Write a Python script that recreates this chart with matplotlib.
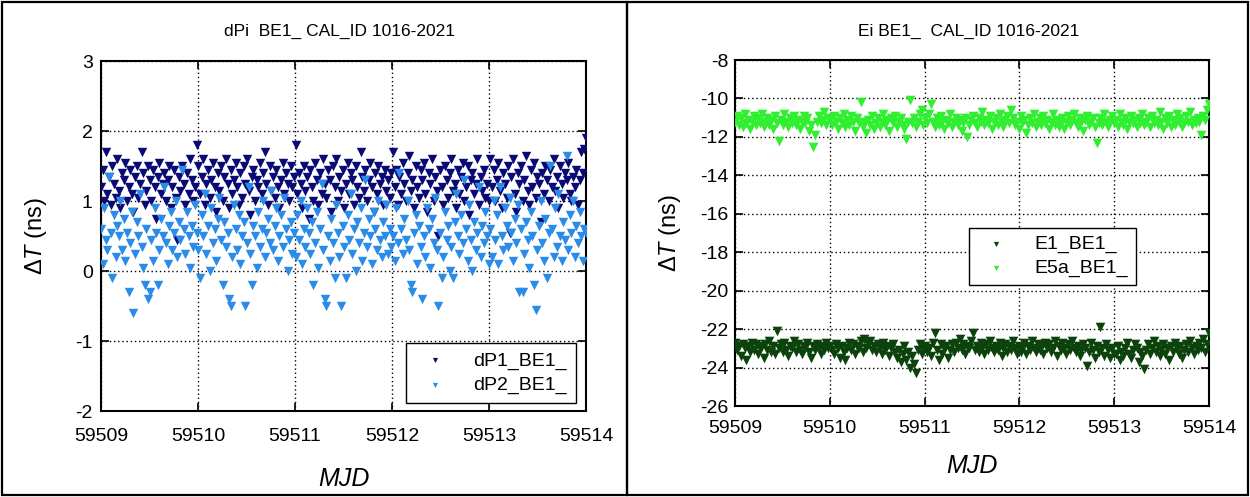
import numpy as np
import matplotlib
matplotlib.use("Agg")
import matplotlib.pyplot as plt
from matplotlib.patches import Rectangle

plt.rcParams['font.family'] = ['Liberation Sans', 'DejaVu Sans']
plt.rcParams['mathtext.fontset'] = 'custom'
plt.rcParams['mathtext.rm'] = 'Liberation Sans'
plt.rcParams['mathtext.it'] = 'Liberation Sans:italic'
plt.rcParams['axes.unicode_minus'] = False

# --- data: calibration offsets vs MJD ---
mjd_start, mjd_end = 59509, 59514
mjd_ticks = [59509, 59510, 59511, 59512, 59513, 59514]

dp1 = [
    1.2, 1.45, 1.0, 1.7, 1.1, 1.35, 0.95, 1.5, 1.25, 1.05, 1.6, 1.15, 0.9, 1.4, 1.3, 1.55, 1.0, 1.2, 1.45, 1.1,
    0.85, 1.35, 1.5, 1.05, 1.25, 1.7, 1.4, 0.95, 1.15, 1.5, 1.3, 1.0, 1.45, 1.2, 0.75, 1.35, 1.55, 1.1, 1.25, 1.4,
    1.0, 1.3, 1.5, 0.9, 1.2, 1.45, 1.05, 0.45, 1.35, 1.15, 1.5, 1.25, 0.95, 1.4, 1.1, 1.6, 1.3, 1.0, 1.2, 1.8,
    1.5, 1.1, 1.35, 1.6, 0.95, 1.25, 1.45, 1.05, 1.3, 1.55, 1.2, 0.85, 1.4, 1.15, 1.5, 1.0, 1.35, 1.6, 1.25, 0.9,
    1.45, 1.1, 1.3, 1.55, 1.2, 0.95, 1.4, 1.05, 1.5, 1.25, 1.6, 1.15, 0.8, 1.35, 1.45, 1.0, 1.3, 1.2, 1.55, 1.1,
    1.4, 1.7, 1.25, 0.95, 1.5, 1.15, 1.35, 1.05, 1.45, 1.2, 0.9, 1.3, 1.55, 1.1, 1.4, 1.25, 1.0, 1.5, 1.2, 1.35,
    1.8, 1.1, 1.4, 1.25, 0.9, 1.5, 1.15, 1.35, 0.75, 1.45, 1.2, 1.0, 1.55, 1.3, 0.95, 1.4, 1.1, 1.6, 1.25, 1.05,
    1.45, 1.3, 0.85, 1.5, 1.2, 1.6, 1.0, 1.35, 1.15, 1.45, 0.9, 1.25, 1.55, 1.1, 1.4, 1.3, 0.95, 1.5, 1.2, 1.05,
    1.7, 1.35, 1.15, 1.45, 1.0, 1.3, 1.55, 1.2, 0.85, 1.4, 1.1, 1.5, 1.25, 1.35, 0.95, 1.45, 1.15, 1.3, 1.05, 1.4,
    1.7, 1.2, 1.45, 0.95, 1.35, 1.1, 1.55, 1.25, 1.0, 1.4, 1.65, 1.15, 1.3, 0.9, 1.5, 1.2, 1.05, 1.45, 1.3, 1.55,
    1.1, 0.85, 1.4, 1.25, 1.6, 1.0, 1.35, 1.15, 0.5, 1.45, 1.2, 0.95, 1.5, 1.3, 1.05, 1.4, 1.6, 1.15, 1.25, 0.9,
    1.45, 1.1, 1.35, 1.55, 1.0, 1.2, 1.5, 0.8, 1.3, 1.4, 1.1, 1.25, 1.6, 0.95, 1.35, 1.15, 1.45, 1.05, 1.25, 1.0,
    1.6, 1.2, 1.45, 1.0, 1.3, 1.55, 1.15, 0.9, 1.4, 1.25, 1.05, 1.5, 0.55, 1.35, 1.6, 1.1, 0.85, 1.4, 1.25, 1.5,
    1.0, 1.3, 1.65, 1.15, 0.95, 1.45, 1.2, 1.55, 1.05, 1.35, 1.25, 0.7, 1.4, 1.1, 1.5, 1.3, 1.0, 1.45, 1.2, 1.6,
    1.15, 1.35, 0.9, 1.5, 1.25, 1.05, 1.4, 1.3, 1.55, 1.1, 1.0, 1.35, 1.2, 1.45, 0.95, 1.3, 1.7, 1.4, 1.75, 1.9,
]
dp2 = [
    0.6, 0.1, 0.9, 0.45, 0.3, 1.35, 0.55, -0.1, 0.8, 0.2, 0.65, 0.5, 1.0, 0.3, 0.75, 0.15, 0.55, -0.3, 0.4, 0.85,
    -0.6, 0.25, 0.7, 0.5, 1.1, 0.35, 0.05, -0.2, 0.6, -0.4, -0.3, 0.45, 0.15, 0.9, 0.55, -0.2, 0.3, 0.75, 0.5, 1.2,
    0.4, 0.1, 0.65, 0.85, 0.3, 0.55, 1.0, 0.2, 0.7, 0.45, 1.45, 0.6, 0.25, 0.85, 0.5, 0.05, 0.65, 0.35, 0.95, 0.55,
    0.3, -0.1, 0.8, 0.5, 1.1, 0.25, 0.65, 0.0, 0.9, 0.4, 0.6, 0.15, 0.75, 1.05, 0.45, -0.2, 0.7, 0.35, 0.55, -0.4,
    -0.5, 0.2, 0.95, 0.6, 0.3, 0.8, 0.1, 0.5, 0.7, -0.5, 0.4, 1.2, 0.25, -0.2, 0.65, 0.5, 0.05, 0.85, 0.35, 0.6,
    1.0, 0.2, 0.55, 0.75, 0.4, 1.15, 0.3, 0.65, 0.9, 0.15, 0.5, 0.8, 0.35, 1.05, 0.6, 0.0, 0.45, 0.7, 0.25, 0.55,
    0.2, 0.8, 0.45, 1.0, 0.1, 0.6, 0.35, 0.9, 0.55, 0.25, 0.7, -0.2, 0.4, 0.85, 0.05, 0.6, 1.25, 0.3, -0.4, -0.5,
    0.5, 0.15, 0.75, 0.4, -0.1, 0.95, 0.55, 0.2, -0.5, 0.65, 0.35, -0.1, 0.8, 0.45, 1.1, 0.25, 0.6, 0.0, 0.7, 0.4,
    0.9, 0.15, 0.55, 1.3, 0.35, 0.75, 0.5, 0.1, 0.85, 0.6, 0.3, 1.0, 0.45, 0.2, 0.7, 0.5, 0.95, 0.25, 0.6, 0.35,
    0.5, 0.15, 0.9, 0.4, 1.4, 0.6, 0.25, 0.75, 0.45, 1.0, 0.3, -0.2, -0.3, 0.55, 0.8, 0.1, 0.65, 0.35, -0.4, 0.5,
    0.2, 0.9, 0.6, 0.05, 0.75, 0.4, 1.05, 0.3, -0.5, 0.55, -0.1, 0.2, 0.85, 0.45, 0.65, 0.0, 0.35, -0.1, 0.7, 1.1,
    0.5, 0.25, 0.8, 0.4, 1.3, 0.6, 0.15, 0.95, 0.45, 0.0, 0.7, 0.3, 0.55, 1.2, 0.2, 0.65, 0.4, 0.85, 0.5, 0.1,
    0.6, 0.2, 1.0, 0.45, 0.8, 0.1, 1.2, 0.5, 0.3, 0.9, 0.65, 0.35, 1.05, 0.55, 0.15, 0.75, 0.4, 0.95, -0.3, 0.6,
    -0.3, 0.25, 0.7, 0.45, 0.05, 0.85, 0.5, -0.2, -0.55, 0.3, 0.65, 1.0, 0.4, 0.15, 0.75, -0.1, 0.55, 1.5, 0.6, 0.2,
    0.9, 0.35, 1.1, 0.5, 0.15, 0.7, 0.45, 1.65, 0.3, 0.8, 0.55, 1.0, 0.2, 0.65, 0.4, 0.85, 0.5, 0.15, 0.6, 0.55,
]

e5a = [
    -11.2, -10.9, -11.4, -11.0, -11.5, -10.8, -11.3, -11.1, -11.6, -11.2, -10.9, -11.4, -11.0,
    -11.3, -10.8, -11.5, -11.2, -11.0, -11.4, -11.1, -11.6, -10.9, -11.3, -12.2, -11.1,
    -11.4, -10.8, -11.2, -11.5, -11.0, -11.3, -10.9, -11.4, -11.1, -11.6, -11.2, -10.9, -11.3,
    -11.0, -11.7, -11.4, -12.5, -11.9, -11.2, -10.9, -11.3, -11.1, -10.7, -11.4, -11.0,
    -11.1, -11.4, -10.9, -11.2, -11.6, -11.0, -11.3, -10.8, -11.5, -11.1, -11.4, -10.9, -11.2,
    -11.7, -11.0, -11.3, -10.2, -11.5, -11.2, -11.8, -11.1, -11.4, -10.9, -11.6, -11.3,
    -11.0, -11.5, -11.2, -10.8, -11.4, -11.1, -11.7, -11.0, -11.3, -10.9, -11.5, -11.2, -11.0,
    -11.4, -11.6, -12.1, -11.2, -10.1, -11.3, -11.0, -11.5, -11.2, -10.8, -10.6, -11.4,
    -11.0, -11.3, -10.8, -10.3, -11.2, -11.5, -11.0, -11.4, -10.9, -11.2, -11.6, -11.1, -11.3,
    -10.8, -11.5, -11.2, -11.0, -11.4, -11.1, -11.7, -11.3, -11.0, -12.0, -11.4, -11.1,
    -10.9, -11.3, -11.5, -11.0, -11.2, -10.7, -11.4, -11.1, -11.3, -10.9, -11.6, -11.2, -11.0,
    -11.4, -10.8, -11.2, -11.5, -11.1, -10.9, -11.3, -10.6, -11.0, -11.4, -11.2, -11.6,
    -10.9, -11.3, -11.1, -11.8, -11.4, -11.0, -11.3, -10.8, -11.5, -11.2, -11.0, -11.4, -10.9,
    -11.3, -11.1, -11.6, -11.2, -10.8, -11.4, -11.1, -11.5, -11.3, -11.0, -11.6, -11.2,
    -10.9, -11.4, -11.1, -10.8, -11.3, -11.5, -11.0, -11.2, -11.7, -11.1, -10.9, -11.4, -11.2,
    -11.0, -11.5, -12.3, -11.3, -11.0, -11.4, -10.8, -11.2, -11.5, -11.1, -10.9, -11.3,
    -11.1, -11.5, -10.8, -11.2, -11.4, -11.0, -11.6, -11.2, -10.9, -11.3, -11.1, -11.5, -11.0,
    -11.3, -10.8, -11.4, -11.2, -11.0, -11.5, -10.9, -11.3, -11.1, -11.4, -10.7, -11.2,
    -11.6, -11.0, -11.3, -10.9, -11.5, -11.1, -11.4, -10.8, -11.2, -11.0, -11.5, -11.3, -10.9,
    -11.2, -10.7, -11.4, -11.1, -11.3, -11.0, -11.2, -11.9, -10.9, -11.1, -10.6, -10.3,
]
e1 = [
    -22.7, -23.1, -22.9, -23.4, -22.8, -23.0, -23.6, -22.9, -23.2, -22.7, -23.1, -22.8, -23.3,
    -23.0, -22.9, -23.5, -22.8, -23.1, -22.6, -23.2, -22.9, -23.3, -22.1, -23.0, -22.8,
    -23.2, -22.7, -23.1, -23.4, -22.9, -23.0, -22.6, -23.2, -22.8, -23.1, -23.3, -22.9, -23.0,
    -22.7, -23.2, -23.5, -22.9, -23.1, -22.8, -23.0, -23.3, -22.9, -23.1, -22.7, -23.0,
    -22.9, -23.1, -23.3, -22.8, -23.0, -23.5, -22.9, -23.2, -23.6, -23.0, -22.7, -23.1, -22.8,
    -23.3, -22.9, -23.0, -22.6, -23.2, -22.5, -23.0, -22.8, -22.6, -23.1, -22.9, -23.2,
    -22.8, -23.0, -23.3, -22.7, -23.1, -22.9, -23.4, -23.0, -22.8, -23.2, -23.5, -23.1, -23.7,
    -23.3, -22.9, -23.6, -23.2, -24.0, -23.4, -23.8, -24.3, -23.1, -22.8, -23.3, -23.0,
    -22.9, -23.2, -23.0, -23.4, -22.7, -22.2, -23.1, -23.6, -22.8, -23.3, -23.0, -22.9, -23.5,
    -23.1, -22.8, -23.2, -22.7, -23.0, -22.5, -23.1, -22.8, -23.3, -22.9, -23.0, -22.6,
    -22.2, -23.1, -22.9, -23.2, -22.7, -23.0, -23.3, -22.8, -23.1, -22.6, -23.0, -23.2, -22.9,
    -23.1, -22.7, -23.4, -23.0, -22.8, -23.2, -22.9, -23.1, -22.6, -23.0, -23.3, -22.9,
    -23.2, -23.0, -22.7, -23.3, -22.9, -23.1, -22.6, -23.0, -23.2, -22.8, -23.1, -22.9, -23.3,
    -22.7, -23.0, -22.8, -23.2, -23.0, -22.6, -23.4, -22.9, -23.1, -22.7, -23.0, -23.3,
    -22.8, -23.1, -22.6, -23.0, -23.2, -22.9, -23.4, -23.1, -22.8, -23.0, -23.9, -23.2, -22.7,
    -23.1, -23.5, -22.9, -23.2, -21.9, -23.0, -23.4, -22.8, -23.1, -23.5, -23.0, -23.3,
    -23.3, -22.9, -23.6, -23.2, -23.4, -23.0, -22.7, -23.3, -23.5, -23.1, -22.8, -23.0, -23.7,
    -23.2, -23.4, -24.1, -23.1, -22.8, -23.3, -23.0, -22.6, -23.2, -22.9, -23.4, -23.1,
    -22.8, -23.3, -23.0, -23.6, -22.9, -23.2, -22.7, -23.0, -23.3, -22.9, -23.5, -23.1, -22.8,
    -23.2, -22.6, -23.0, -23.3, -22.9, -23.1, -22.7, -23.0, -22.5, -23.2, -22.8, -22.2,
]

t_left = np.linspace(mjd_start, mjd_end, len(dp1))
t_right = np.linspace(mjd_start, mjd_end, len(e1))

W, H = 1250, 497
fig = plt.figure(figsize=(W / 100, H / 100), dpi=100)


def style_axes(ax, ylim, yticks, xpad, ypad):
    ax.set_xlim(mjd_start, mjd_end)
    ax.set_ylim(*ylim)
    ax.set_xticks(mjd_ticks)
    ax.set_yticks(yticks)
    ax.grid(True, color='black', linestyle=(0, (1, 2)), linewidth=1.0)
    ax.tick_params(direction='in', top=True, right=True, length=6, width=1.2,
                   labelsize=14)
    ax.tick_params(axis='x', pad=xpad)
    ax.tick_params(axis='y', pad=ypad)
    for s in ax.spines.values():
        s.set_linewidth(1.5)
    ax.set_xlabel('MJD', fontsize=18, style='italic', labelpad=12)
    ax.set_ylabel(r'$\Delta \mathit{T}$ (ns)', fontsize=17)


legend_kw = dict(loc='lower right', fontsize=14, fancybox=False, framealpha=1,
                 edgecolor='black', markerscale=0.55, handletextpad=1.0,
                 borderaxespad=0)

# left panel: dP1 / dP2
ax1 = fig.add_axes([101 / W, 1 - 411 / H, 485 / W, 350 / H])
ax1.scatter(t_left, dp1, marker='v', s=46, color='#0a0a74', linewidths=0, label='dP1_BE1_', zorder=3)
ax1.scatter(t_left, dp2, marker='v', s=46, color='#2a8be8', linewidths=0, label='dP2_BE1_', zorder=3)
style_axes(ax1, (-2, 3), [-2, -1, 0, 1, 2, 3], xpad=12, ypad=6)
ax1.xaxis.labelpad = 16
ax1.yaxis.set_label_coords(-0.107, 0.5)
leg1 = ax1.legend(bbox_to_anchor=(0.979, 0.023), borderpad=0.45, labelspacing=0.35, **legend_kw)
leg1.get_frame().set_linewidth(1.0)

# right panel: E1 / E5a
ax2 = fig.add_axes([735 / W, 1 - 406 / H, 474 / W, 346 / H])
ax2.scatter(t_right, e1, marker='v', s=48, color='#0c420c', linewidths=0, label='E1_BE1_', zorder=3)
ax2.scatter(t_right, e5a, marker='v', s=48, color='#30ee30', linewidths=0, label='E5a_BE1_', zorder=3)
style_axes(ax2, (-26, -8), list(range(-26, -7, 2)), xpad=10, ypad=5)
ax2.yaxis.set_label_coords(-0.11, 0.5)
leg2 = ax2.legend(bbox_to_anchor=(0.846, 0.35), borderpad=0.4, labelspacing=0.3, **legend_kw)
leg2.get_frame().set_linewidth(1.0)

fig.text(340 / W, 1 - 31 / H, 'dPi  BE1_ CAL_ID 1016-2021', ha='center', va='center', fontsize=12.5)
fig.text(969 / W, 1 - 31 / H, 'Ei BE1_  CAL_ID 1016-2021', ha='center', va='center', fontsize=12.5)

# panel borders
fig.add_artist(Rectangle((2 / W, 2 / H), 625 / W, 493 / H, transform=fig.transFigure,
                         fill=False, edgecolor='black', linewidth=1.6))
fig.add_artist(Rectangle((627 / W, 2 / H), 621 / W, 493 / H, transform=fig.transFigure,
                         fill=False, edgecolor='black', linewidth=1.6))

fig.savefig('out.png', dpi=100)
